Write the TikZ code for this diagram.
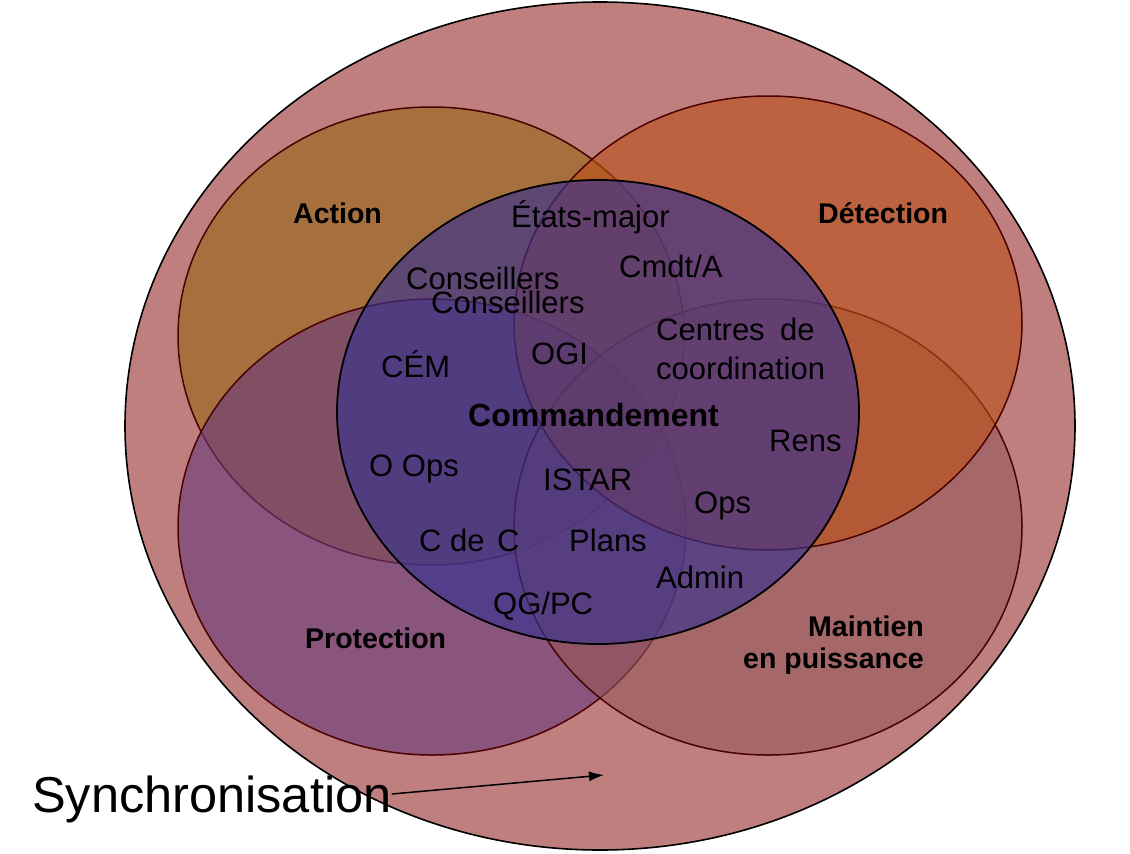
\documentclass[tikz,border=0pt]{standalone}
\usepackage{fontspec}
\setmainfont{Liberation Sans}
\usetikzlibrary{arrows.meta}
\definecolor{bigc}{RGB}{191,127,127}
\definecolor{actc}{RGB}{148,102,19}
\definecolor{detc}{RGB}{189,80,22}
\definecolor{proc}{RGB}{104,57,125}
\definecolor{mainc}{RGB}{149,87,87}
\definecolor{cmdc}{RGB}{56,50,144}
\definecolor{edgec}{RGB}{75,0,0}
\tikzset{
  dombox/.style={fill opacity=0.6, draw=edgec, line width=1.5pt},
  lbl/.style={anchor=base west, inner sep=0pt, font=\fontsize{31}{36}\selectfont},
  blbl/.style={anchor=base west, inner sep=0pt, font=\fontsize{28.5}{34}\selectfont\bfseries},
}
\begin{document}
\begin{tikzpicture}[x=1pt,y=-1pt]
\useasboundingbox (0,0) rectangle (1130,854);
% outer ellipse
\fill[bigc] (600,426) ellipse [x radius=475, y radius=424];
\draw[black, line width=1.6pt] (600,426) ellipse [x radius=475, y radius=424];
% domains
\filldraw[dombox, fill=actc] (431,336) ellipse [x radius=253, y radius=229];
\filldraw[dombox, fill=proc] (432,527) ellipse [x radius=254, y radius=228];
\filldraw[dombox, fill=mainc] (768,527) ellipse [x radius=254, y radius=228];
\filldraw[dombox, fill=detc] (768,323) ellipse [x radius=254, y radius=227];
% commandement circle
\filldraw[fill=cmdc, fill opacity=0.65, draw=black, line width=1.8pt] (598,412) ellipse [x radius=261, y radius=232];
% domain labels
\node[blbl] (action) at (293,223) {Action};
\node[blbl] (detection) at (818,223) {Détection};
\node[blbl] (protection) at (305,648) {Protection};
\node[blbl, anchor=base east] (maintien1) at (924,636) {Maintien};
\node[blbl, anchor=base east] (maintien2) at (924,668) {en puissance};
\node[blbl, font=\fontsize{32}{37}\selectfont\bfseries] (cmd) at (468,426) {Commandement};
% inner labels
\node[lbl] (em) at (511,227) {États-major};
\node[lbl] (cmdt) at (619,277) {Cmdt/A};
\node[lbl] (cons1) at (406,289) {Conseillers};
\node[lbl] (cons2) at (431,313) {Conseillers};
\node[lbl] (centres) at (656,340) {Centres\hspace{0.5em}de};
\node[lbl] (coord) at (656,379) {coordination};
\node[lbl] (ogi) at (531,364) {OGI};
\node[lbl] (cem) at (381,377) {CÉM};
\node[lbl] (rens) at (769,451) {Rens};
\node[lbl] (oops) at (369,476) {O Ops};
\node[lbl] (istar) at (543,490) {ISTAR};
\node[lbl] (ops) at (694,513) {Ops};
\node[lbl] (cdec) at (419,551) {C de\hspace{0.4em}C};
\node[lbl] (plans) at (569,551) {Plans};
\node[lbl] (admin) at (656,588) {Admin};
\node[lbl] (qgpc) at (493,614) {QG/PC};
% synchronisation
\node[anchor=base west, inner sep=0pt, font=\fontsize{50.5}{60}\selectfont] (sync) at (32,812) {Synchronisation};
\coordinate (syncy) at (0,794);
\coordinate (synctip) at (604,775);
\draw[line width=1.5pt, -{Latex[length=15pt,width=10pt]}] (sync.east |- syncy) -- (synctip);
\end{tikzpicture}
\end{document}
